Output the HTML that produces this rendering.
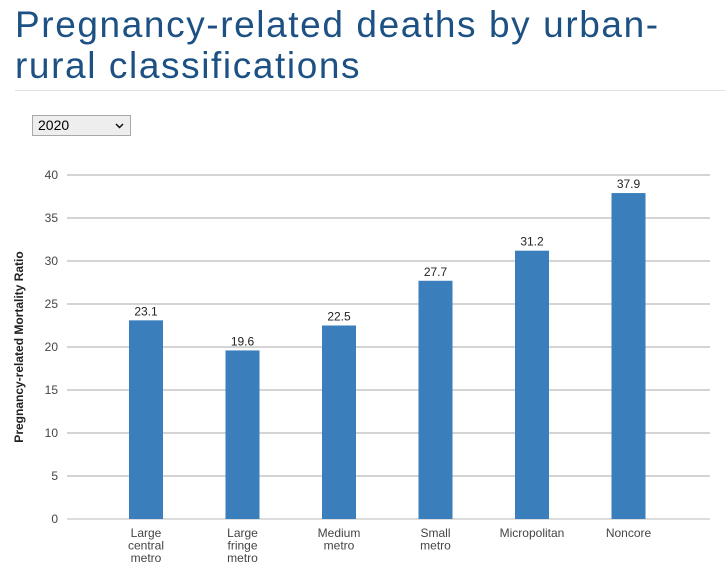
<!DOCTYPE html>
<html><head><meta charset="utf-8"><style>
body{margin:0;width:725px;height:576px;background:#fff;overflow:hidden;font-family:"Liberation Sans",sans-serif;}
h1{position:absolute;left:15px;top:4px;margin:0;font-weight:normal;font-size:37px;line-height:41px;color:#1d5184;letter-spacing:1.6px;}
.rule{position:absolute;left:15px;top:90px;width:710px;height:1px;background:#e2e2e2;}
.sel{position:absolute;left:32px;top:115px;width:97px;height:19px;border:1px solid #a9a9a9;background:#eee;font-size:14px;box-sizing:content-box;}
.sel span{position:absolute;left:5px;top:1px;}
.sel svg{position:absolute;right:6px;top:7px;}
</style></head><body>
<h1>Pregnancy-related deaths by urban-<br>rural classifications</h1>
<div class="rule"></div>
<div class="sel"><span>2020</span><svg width="9" height="6"><polyline points="1,1 4.5,4.5 8,1" fill="none" stroke="#111" stroke-width="1.5"/></svg></div>
<svg id="chart" width="725" height="576" style="position:absolute;left:0;top:0"></svg>
<script>
const categories=[["Large","central","metro"],["Large","fringe","metro"],["Medium","metro"],["Small","metro"],["Micropolitan"],["Noncore"]];
const values=[23.1,19.6,22.5,27.7,31.2,37.9];
const ticks=[0,5,10,15,20,25,30,35,40];
const ns="http://www.w3.org/2000/svg";
const svg=document.getElementById('chart');
const y=v=>519-v*8.6;
const x=i=>146+i*96.5;
function mk(t,a,txt){const e=document.createElementNS(ns,t);for(const k in a)e.setAttribute(k,a[k]);if(txt!=null)e.textContent=txt;svg.appendChild(e);return e;}
ticks.forEach(t=>{
 const l=mk('line',{x1:67,x2:710,y1:y(t),y2:y(t),stroke:t===0?'#bbb':'#aaa','stroke-width':1});
 
 
 const tx=mk('text',{x:58,y:y(t)+4,'text-anchor':'end','font-size':12,fill:'#444'},t);
 
 
});
values.forEach((v,i)=>{
 const r=mk('rect',{x:x(i)-17,y:y(v),width:34,height:y(0)-y(v),fill:'#3a7ebb'});
 
 
 const t=mk('text',{x:x(i),y:y(v)-5,'text-anchor':'middle','font-size':12,fill:'#222'},v.toFixed(1));
 
 
 categories[i].forEach((s,j)=>{
  const c=mk('text',{x:x(i),y:537+j*12.5,'text-anchor':'middle','font-size':12,fill:'#444'},s);
  
  
 });
});
const yt=mk('text',{x:0,y:0,transform:'translate(23,347) rotate(-90)','text-anchor':'middle','font-size':12,'font-weight':'bold',fill:'#222'},'Pregnancy-related Mortality Ratio');


</script>
</body></html>
